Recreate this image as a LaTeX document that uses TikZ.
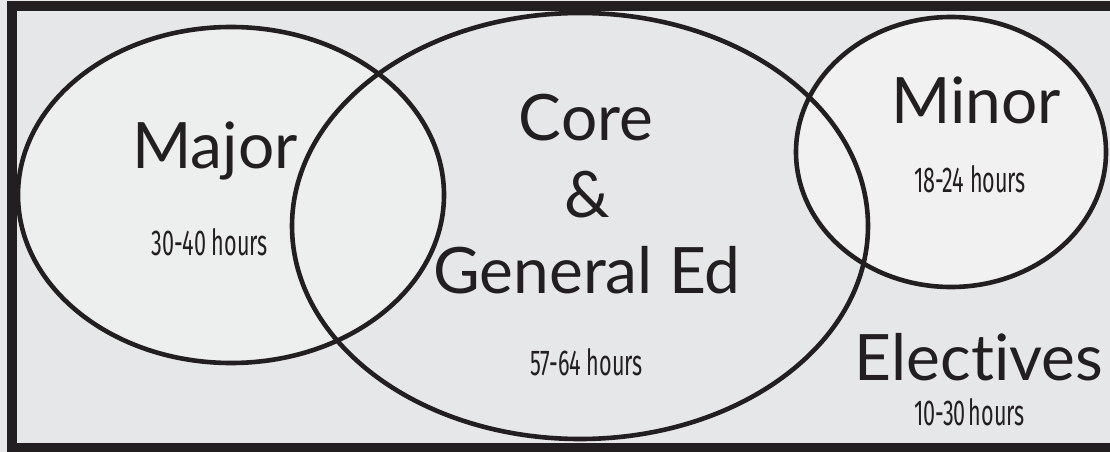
\documentclass[tikz,border=0pt]{standalone}
\usepackage{fontspec}
\setmainfont{Lato}[Ligatures={NoCommon,NoDiscretionary,NoRare}]
\newfontfamily\hrsfont[FakeStretch=0.6]{Fira Sans}
\definecolor{bgc}{HTML}{E6E7E9}
\definecolor{majc}{HTML}{EDEEEE}
\definecolor{minc}{HTML}{F1F1F2}
\definecolor{inkc}{HTML}{231F20}
\begin{document}
\begin{tikzpicture}[x=1pt,y=-1pt,
  ring/.style={draw=inkc,line width=4.6pt},
  bigtxt/.style={inner sep=0pt,anchor=base,text=inkc,font=\fontsize{64}{64}\selectfont},
  hrstxt/.style={inner sep=0pt,anchor=base,text=inkc,font=\hrsfont\fontsize{36}{36}\selectfont}]
\useasboundingbox (0,0) rectangle (1110,452);
\fill[bgc] (0,0) rectangle (1110,452);
% fills
\fill[bgc] (580,226) ellipse [x radius=288, y radius=213];
\fill[majc] (231,195) ellipse [x radius=213, y radius=168];
\fill[minc] (951,152) ellipse [x radius=155, y radius=135];
% outlines
\draw[ring] (580,226) ellipse [x radius=288, y radius=213];
\draw[ring] (231,195) ellipse [x radius=213, y radius=168];
\draw[ring] (951,152) ellipse [x radius=155, y radius=135];
% frame
\draw[inkc,line width=10pt] (1125,6) -- (12,6) -- (12,448) -- (1125,448);
% texts
\node[bigtxt] (major) at (215,168) {Major};
\node[hrstxt] (majorh) at (209.5,255) {30-40 hours};
\node[bigtxt] (core) at (586,140) {Core};
\node[bigtxt] (amp) at (587,217) {\&};
\node[bigtxt] (gened) at (587,293) {General Ed};
\node[hrstxt] (coreh) at (586.5,375) {57-64 hours};
\node[bigtxt] (minor) at (976,123) {Minor};
\node[hrstxt] (minorh) at (970,192) {18-24 hours};
\node[bigtxt] (elect) at (979,380) {Electives};
\node[hrstxt] (electh) at (969.5,425) {10-30\hspace{0.08em}hours};
\end{tikzpicture}
\end{document}
